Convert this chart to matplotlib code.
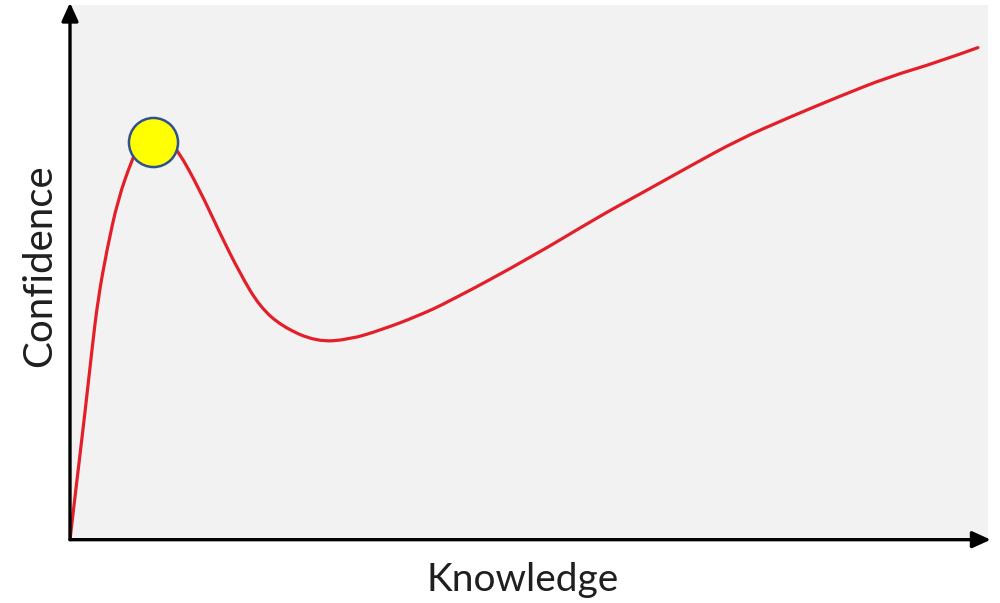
import matplotlib
matplotlib.use("Agg")
import matplotlib.pyplot as plt
from matplotlib.path import Path
from matplotlib.patches import PathPatch

# Dunning-Kruger style curve (0-100 units)
knowledge = [0, 0.54, 1.63, 2.39, 3.04, 4.02, 5.22, 6.74, 7.83, 8.91, 10.1,
             11.74, 14.13, 16.3, 18.48, 20.65, 23.15, 26.85, 30.43, 34.02,
             37.72, 41.3, 50.33, 57.6, 61.96, 67.39, 72.83, 78.26, 83.7,
             89.13, 94.57, 98.9]
confidence = [0, 8.0, 23.7, 35.5, 44.9, 54.2, 63.6, 71.0, 75.1, 76.4, 75.7,
              72.9, 65.4, 57.4, 49.9, 43.6, 39.8, 37.0, 37.4, 39.3,
              41.7, 44.5, 52.9, 60.4, 64.5, 69.7, 74.8, 78.9, 82.8,
              86.5, 89.3, 92.0]
peak_k, peak_c = 9.0, 74.4

fig = plt.figure(figsize=(10, 6.03), dpi=100)
ax = fig.add_axes([0.070, 0.105, 0.918, 0.887])
ax.set_facecolor('#f2f2f2')
ax.set_xlim(0, 100)
ax.set_ylim(0, 100)
for s in ax.spines.values():
    s.set_visible(False)
ax.set_xticks([])
ax.set_yticks([])

# smooth the read points with quadratic bezier segments (points as controls)
pts = list(zip(knowledge, confidence))
verts = [pts[0]]
codes = [Path.MOVETO]
for i in range(1, len(pts) - 1):
    nxt = pts[i + 1] if i + 1 == len(pts) - 1 else ((pts[i][0] + pts[i + 1][0]) / 2, (pts[i][1] + pts[i + 1][1]) / 2)
    verts += [pts[i], nxt]
    codes += [Path.CURVE3, Path.CURVE3]
ax.add_patch(PathPatch(Path(verts, codes), facecolor='none', edgecolor='#e3202a',
                       lw=2.3, capstyle='round', joinstyle='round', zorder=3))
ax.scatter([peak_k], [peak_c], s=1250, color='#ffff00', edgecolor='#2f528f', lw=1.8, zorder=4)

# axes with arrow heads
arr = dict(arrowstyle='-|>,head_length=1.1,head_width=0.5', color='black', lw=2.4,
           shrinkA=0, shrinkB=0)
ax.annotate('', xy=(0, 1.004), xytext=(0, 0), xycoords='axes fraction',
            textcoords='axes fraction', arrowprops=arr)
ax.annotate('', xy=(1.003, 0), xytext=(0, 0), xycoords='axes fraction',
            textcoords='axes fraction', arrowprops=arr)

fig.text(0.523, 0.038, 'Knowledge', ha='center', va='center', fontsize=28,
         family='Lato', color='#1f1f1f')
fig.text(0.040, 0.56, 'Confidence', ha='center', va='center', fontsize=29,
         family='Lato', color='#1f1f1f', rotation=90)

fig.savefig('out.png', dpi=100)
